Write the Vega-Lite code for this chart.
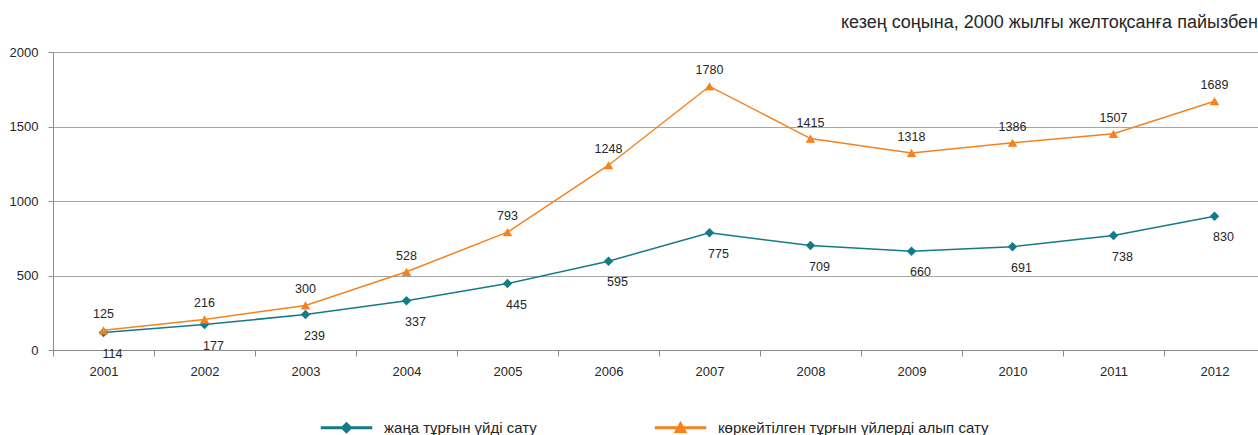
{
  "$schema": "https://vega.github.io/schema/vega-lite/v6.json",
  "width": 1205,
  "height": 298,
  "autosize": {"type": "none"},
  "padding": {"left": 53, "top": 52, "right": 0, "bottom": 85},
  "background": "white",
  "config": {
    "font": "Liberation Sans",
    "view": {"stroke": null},
    "axis": {"labelFont": "Liberation Sans", "labelFontSize": 13, "labelColor": "#262626", "domainColor": "#8c8c8c", "tickColor": "#8c8c8c", "gridColor": "#a6a6a6", "title": null}
  },
  "title": {
    "text": "кезең соңына, 2000 жылғы желтоқсанға пайызбен",
    "anchor": "end",
    "frame": "group",
    "fontSize": 18,
    "fontWeight": "normal",
    "font": "Liberation Sans",
    "color": "#262626",
    "offset": 14
  },
  "data": {
    "values": [
      {"year": "2001", "series": "жаңа тұрғын үйді сату", "value": 117, "label": 114},
      {"year": "2002", "series": "жаңа тұрғын үйді сату", "value": 171, "label": 177},
      {"year": "2003", "series": "жаңа тұрғын үйді сату", "value": 238, "label": 239},
      {"year": "2004", "series": "жаңа тұрғын үйді сату", "value": 330, "label": 337},
      {"year": "2005", "series": "жаңа тұрғын үйді сату", "value": 446, "label": 445},
      {"year": "2006", "series": "жаңа тұрғын үйді сату", "value": 596, "label": 595},
      {"year": "2007", "series": "жаңа тұрғын үйді сату", "value": 787, "label": 775},
      {"year": "2008", "series": "жаңа тұрғын үйді сату", "value": 701, "label": 709},
      {"year": "2009", "series": "жаңа тұрғын үйді сату", "value": 663, "label": 660},
      {"year": "2010", "series": "жаңа тұрғын үйді сату", "value": 693, "label": 691},
      {"year": "2011", "series": "жаңа тұрғын үйді сату", "value": 768, "label": 738},
      {"year": "2012", "series": "жаңа тұрғын үйді сату", "value": 898, "label": 830},
      {"year": "2001", "series": "көркейтілген тұрғын үйлерді алып сату", "value": 132, "label": 125},
      {"year": "2002", "series": "көркейтілген тұрғын үйлерді алып сату", "value": 205, "label": 216},
      {"year": "2003", "series": "көркейтілген тұрғын үйлерді алып сату", "value": 299, "label": 300},
      {"year": "2004", "series": "көркейтілген тұрғын үйлерді алып сату", "value": 525, "label": 528},
      {"year": "2005", "series": "көркейтілген тұрғын үйлерді алып сату", "value": 791, "label": 793},
      {"year": "2006", "series": "көркейтілген тұрғын үйлерді алып сату", "value": 1240, "label": 1248},
      {"year": "2007", "series": "көркейтілген тұрғын үйлерді алып сату", "value": 1770, "label": 1780},
      {"year": "2008", "series": "көркейтілген тұрғын үйлерді алып сату", "value": 1419, "label": 1415},
      {"year": "2009", "series": "көркейтілген тұрғын үйлерді алып сату", "value": 1323, "label": 1318},
      {"year": "2010", "series": "көркейтілген тұрғын үйлерді алып сату", "value": 1391, "label": 1386},
      {"year": "2011", "series": "көркейтілген тұрғын үйлерді алып сату", "value": 1451, "label": 1507},
      {"year": "2012", "series": "көркейтілген тұрғын үйлерді алып сату", "value": 1670, "label": 1689}
    ]
  },
  "encoding": {
    "x": {
      "field": "year", "type": "ordinal",
      "scale": {"type": "band", "range": [0, 1212], "paddingInner": 0, "paddingOuter": 0},
      "axis": {"labelAngle": 0, "tickBand": "extent", "tickSize": 6, "labelPadding": 9, "grid": false, "domainWidth": 1}
    },
    "y": {
      "field": "value", "type": "quantitative",
      "scale": {"domain": [0, 2000], "nice": false},
      "axis": {"values": [0, 500, 1000, 1500, 2000], "format": "d", "tickSize": 5, "labelPadding": 10, "grid": true}
    },
    "color": {
      "field": "series", "type": "nominal",
      "scale": {"domain": ["жаңа тұрғын үйді сату", "көркейтілген тұрғын үйлерді алып сату"], "range": ["#137b87", "#f5821f"]},
      "legend": {
        "orient": "none",
        "legendX": 286,
        "legendY": 368,
        "direction": "horizontal",
        "title": null,
        "labelFont": "Liberation Sans",
        "labelFontSize": 15,
        "labelColor": "#262626",
        "labelLimit": 0,
        "symbolSize": 100,
        "labelOffset": 30,
        "columnPadding": 115,
        "padding": 0,
        "encode": {
          "symbols": {
            "update": {
              "shape": {"signal": "datum.index === 0 ? 'M-5,-0.15L5,-0.15L5,0.15L-5,0.15ZM0,-1L1,0L0,1L-1,0Z' : 'M-5,-0.15L5,-0.15L5,0.15L-5,0.15ZM0,-1.1L1.1,0.9L-1.1,0.9Z'"},
              "fill": {"signal": "datum.index === 0 ? '#137b87' : '#f5821f'"},
              "stroke": {"value": "transparent"},
              "fillOpacity": {"value": 1},
              "opacity": {"value": 1}
            }
          }
        }
      }
    }
  },
  "layer": [
    {
      "mark": {"type": "line", "interpolate": "linear", "strokeWidth": 1.5}
    },
    {
      "transform": [{"filter": "datum.series === 'жаңа тұрғын үйді сату'"}],
      "mark": {"type": "point", "filled": true, "size": 90, "opacity": 1, "shape": "diamond"}
    },
    {
      "transform": [{"filter": "datum.series === 'көркейтілген тұрғын үйлерді алып сату'"}],
      "mark": {"type": "point", "filled": true, "size": 90, "opacity": 1, "shape": "triangle-up"}
    },
    {
      "transform": [{"filter": "datum.series === 'жаңа тұрғын үйді сату'"}],
      "mark": {"type": "text", "dy": 21, "dx": 9, "fontSize": 12.5, "color": "#262626", "font": "Liberation Sans"},
      "encoding": {"text": {"field": "label", "type": "quantitative"}, "color": {"value": "#262626"}}
    },
    {
      "transform": [{"filter": "datum.series === 'көркейтілген тұрғын үйлерді алып сату'"}],
      "mark": {"type": "text", "dy": -16, "fontSize": 12.5, "color": "#262626", "font": "Liberation Sans"},
      "encoding": {"text": {"field": "label", "type": "quantitative"}, "color": {"value": "#262626"}}
    }
  ]
}
